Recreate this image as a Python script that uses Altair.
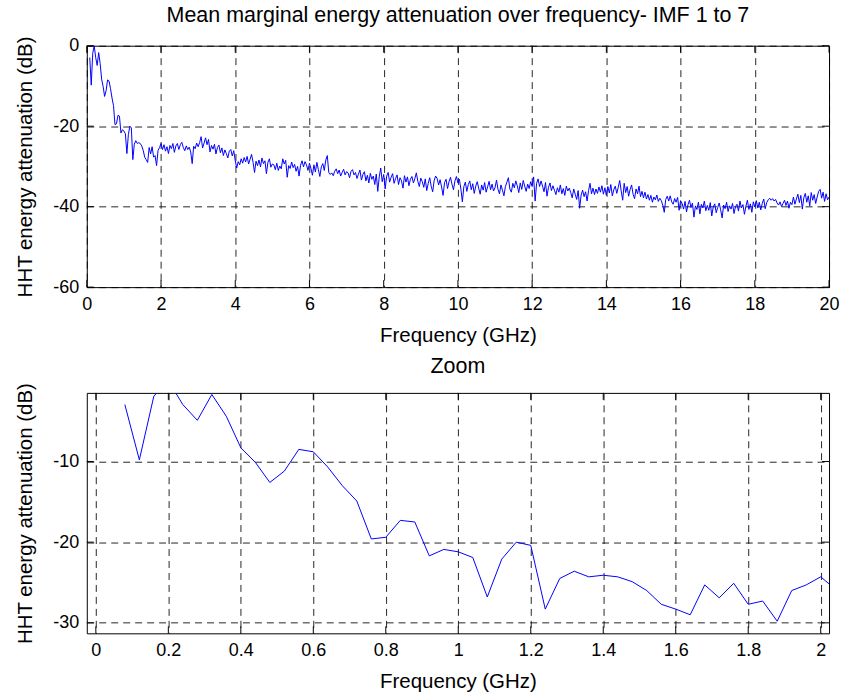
import altair as alt
import pandas as pd

FONT = "Liberation Sans"

freq_start = 0.08
freq_step = 0.04

att_0_2 = [-2.95, -9.8, -1.9, 0.0, -2.95, -4.9, -1.7, -4.4, -8.3, -10.1,
           -12.6, -11.2, -8.5, -8.8, -10.7, -13.0, -14.9, -19.6, -19.4, -17.3,
           -17.5, -21.7, -20.9, -21.2, -21.9, -26.8, -22.1, -20.0, -20.4, -28.3,
           -24.5, -23.6, -24.3, -24.1, -24.3, -24.9, -26.0, -27.7, -28.3, -29.0,
           -25.3, -26.9, -25.1, -27.7, -27.3, -29.8, -26.0, -25.3, -24.3, -25.8]
att_2_3 = [-24.6, -26.2, -25.1, -26.8, -24.8, -25.6, -24.3, -26.5, -24.9, -24.3,
           -25.8, -24.6, -24.0, -25.3, -26.1, -24.9, -25.8, -25.2, -26.4, -29.3,
           -25.0, -25.6, -24.2, -25.1]
att_3_4 = [-24.1, -22.6, -25.4, -24.2, -22.9, -24.6, -23.3, -26.4, -24.8, -25.7,
           -24.5, -26.9, -25.3, -24.7, -26.6, -25.4, -27.3, -25.9, -26.8, -27.9,
           -26.2, -25.8, -27.4, -26.1, -28.6]
att_4_5 = [-30.4, -28.8, -29.6, -28.1, -29.2, -27.8, -28.9, -27.5, -29.4, -28.2,
           -27.0, -29.0, -31.5, -28.7, -29.8, -28.4, -30.1, -27.9, -29.3, -28.6,
           -31.8, -29.0, -28.1, -30.2, -29.4]
att_5_6 = [-29.6, -30.8, -29.2, -31.0, -29.9, -30.6, -28.1, -29.4, -28.5, -32.7,
           -29.8, -30.5, -28.9, -30.3, -29.5, -31.2, -30.0, -32.4, -29.7, -28.6,
           -30.1, -28.8, -29.6, -31.0, -29.2]
att_6_7 = [-30.5, -32.2, -29.6, -31.4, -29.0, -30.8, -32.5, -30.1, -29.3, -31.0,
           -28.4, -27.3, -31.5, -32.0, -31.6, -32.3, -31.2, -30.6, -31.8, -30.9,
           -32.4, -31.5, -30.7, -32.1, -31.3]
att_7_8 = [-31.6, -32.8, -31.2, -30.8, -32.1, -31.5, -33.0, -31.9, -30.9, -33.4,
           -32.0, -31.3, -33.6, -32.2, -34.1, -31.7, -33.2, -32.4, -34.5, -31.9,
           -36.2, -32.6, -30.4, -33.8, -32.0]
att_8_9 = [-35.6, -32.4, -31.5, -33.9, -32.7, -31.8, -34.2, -33.0, -32.1, -34.5,
           -32.8, -33.6, -35.4, -32.3, -33.9, -32.6, -34.8, -33.2, -32.5, -34.1,
           -33.0, -31.6, -33.7, -35.0, -32.9]
att_9_10 = [-33.8, -35.2, -33.1, -36.0, -34.2, -32.8, -34.9, -36.3, -33.5, -32.4,
            -33.0, -34.6, -33.3, -35.1, -37.2, -34.0, -33.2, -35.5, -33.8, -32.7,
            -34.4, -35.8, -33.6, -32.5, -34.1]
att_10_11 = [-33.2, -35.6, -38.8, -35.0, -33.9, -36.2, -34.5, -33.6, -35.8, -34.3,
             -36.7, -34.9, -33.8, -35.4, -36.9, -34.6, -35.9, -34.0, -36.4, -35.1,
             -33.7, -35.8, -34.4, -36.1, -35.3]
att_11_12 = [-33.4, -35.7, -36.8, -34.6, -35.9, -37.3, -35.0, -33.9, -32.8, -35.6,
             -36.4, -34.2, -35.3, -33.6, -34.8, -36.5, -34.1, -35.7, -33.5, -34.9,
             -36.2, -34.4, -35.5, -33.8, -35.0]
att_12_13 = [-32.6, -38.6, -34.2, -33.1, -35.0, -33.6, -34.9, -36.3, -34.0, -37.4,
             -35.2, -34.1, -36.0, -34.8, -35.9, -37.0, -35.3, -36.4, -34.6, -36.8,
             -35.5, -37.2, -34.9, -36.1, -35.4]
att_13_14 = [-36.5, -37.8, -35.6, -36.9, -38.2, -36.0, -40.4, -37.1, -35.9, -37.5,
             -36.3, -38.6, -36.0, -34.2, -36.8, -35.4, -37.0, -35.6, -36.7, -35.1,
             -36.4, -34.8, -36.9, -35.3, -37.2]
att_14_15 = [-35.0, -36.6, -34.5, -37.3, -35.8, -34.9, -36.7, -35.2, -33.5, -36.1,
             -38.4, -34.2, -36.5, -35.0, -37.4, -35.7, -34.6, -36.9, -38.0, -35.6,
             -36.8, -34.9, -37.5, -36.2, -37.8]
att_15_16 = [-36.4, -38.1, -37.0, -38.4, -37.2, -38.9, -37.6, -38.3, -37.1, -38.7,
             -37.9, -38.5, -39.6, -41.4, -38.2, -37.4, -38.6, -37.3, -38.8, -39.4,
             -38.0, -38.9, -37.7, -40.9, -38.5]
att_16_17 = [-39.2, -40.6, -38.7, -41.3, -39.5, -38.4, -40.2, -39.1, -42.6, -39.8,
             -40.7, -38.9, -41.8, -39.4, -40.3, -38.6, -41.0, -39.7, -40.9, -39.0,
             -42.3, -40.1, -39.3, -41.5, -40.2]
att_17_18 = [-39.1, -40.8, -42.8, -39.6, -40.5, -38.9, -41.2, -39.8, -40.6, -39.2,
             -41.7, -40.0, -39.4, -41.1, -38.6, -40.3, -39.5, -41.9, -39.9, -38.4,
             -40.7, -39.3, -41.4, -38.8, -40.1]
att_18_19 = [-38.5, -40.3, -38.9, -40.8, -39.2, -38.1, -40.5, -39.0, -38.3, -37.9,
             -38.4, -38.0, -38.6, -38.2, -39.1, -39.6, -38.8, -40.0, -39.2, -38.4,
             -39.7, -38.6, -40.4, -38.9, -39.5]
att_19_20 = [-37.6, -39.4, -38.1, -36.9, -39.0, -37.2, -40.6, -37.8, -36.7, -38.9,
             -37.3, -39.8, -36.5, -38.4, -37.0, -39.2, -37.6, -36.2, -35.7, -37.9,
             -36.4, -38.7, -36.8, -38.3, -37.6]

top_x_ticks = [0, 2, 4, 6, 8, 10, 12, 14, 16, 18, 20]
top_y_ticks = [0, -20, -40, -60]
zoom_x_ticks = [0, 0.2, 0.4, 0.6, 0.8, 1.0, 1.2, 1.4, 1.6, 1.8, 2.0]
zoom_y_ticks = [-10, -20, -30]

top_title = "Mean marginal energy attenuation over frequency- IMF 1 to 7"
zoom_title = "Zoom"
x_title = "Frequency (GHz)"
y_title = "HHT energy attenuation (dB)"

values = (att_0_2 + att_2_3 + att_3_4 + att_4_5 + att_5_6 + att_6_7 + att_7_8 +
          att_8_9 + att_9_10 + att_10_11 + att_11_12 + att_12_13 + att_13_14 +
          att_14_15 + att_15_16 + att_16_17 + att_17_18 + att_18_19 + att_19_20)
freq = [round(freq_start + freq_step * i, 2) for i in range(len(values))]
df = pd.DataFrame({"f": freq, "db": values})
zoom_df = df[df["f"] <= 2.09]

W = 744
TICK = 7


def panel(data, xdom, ydom, xt, yt, title, H, title_offset):
    xs = alt.Scale(domain=xdom, nice=False, zero=False)
    ys = alt.Scale(domain=ydom, nice=False, zero=False)
    common = dict(grid=True, gridDash=[7, 5], gridColor="black", gridOpacity=0.85,
                  gridWidth=1, ticks=False, tickSize=0, domain=False,
                  labelExpr="toString(datum.value)", labelPadding=8,
                  labelFontSize=18, titleFontSize=20.5, labelFont=FONT,
                  titleFont=FONT, labelColor="black", titleColor="black",
                  titleFontWeight="normal", labelFlush=False, labelOverlap=False)
    xaxis = alt.Axis(values=xt, title=x_title, titlePadding=12, **common)
    yaxis = alt.Axis(values=yt, title=y_title, titlePadding=17, **common)
    line = alt.Chart(data).mark_line(color="#0000ff", strokeWidth=1, clip=True).encode(
        x=alt.X("f:Q", scale=xs, axis=xaxis),
        y=alt.Y("db:Q", scale=ys, axis=yaxis),
    )
    xdf = pd.DataFrame({"t": xt})
    ydf = pd.DataFrame({"t": yt})
    tb = alt.Chart(xdf).mark_rule(color="black", strokeWidth=1).encode(
        x=alt.X("t:Q", scale=xs, axis=xaxis), y=alt.value(H), y2=alt.value(H - TICK))
    tt = alt.Chart(xdf).mark_rule(color="black", strokeWidth=1).encode(
        x=alt.X("t:Q", scale=xs, axis=xaxis), y=alt.value(0), y2=alt.value(TICK))
    tl = alt.Chart(ydf).mark_rule(color="black", strokeWidth=1).encode(
        y=alt.Y("t:Q", scale=ys, axis=yaxis), x=alt.value(0), x2=alt.value(TICK))
    tr = alt.Chart(ydf).mark_rule(color="black", strokeWidth=1).encode(
        y=alt.Y("t:Q", scale=ys, axis=yaxis), x=alt.value(W), x2=alt.value(W - TICK))
    return alt.layer(line, tb, tt, tl, tr).properties(
        width=W, height=H,
        title=alt.TitleParams(title, font=FONT, fontSize=21.5, fontWeight="normal",
                              color="black", anchor="middle", offset=title_offset),
    )


top = panel(df, [0, 20], [-60, 0], top_x_ticks, top_y_ticks, top_title, 242, 9)
bottom = panel(zoom_df, [-0.025, 2.023], [-31.3, -1.5], zoom_x_ticks, zoom_y_ticks,
               zoom_title, 241, 5)

chart = alt.vconcat(top, bottom, spacing=9).properties(
    padding={"left": 15, "top": 3, "right": 5, "bottom": 0},
    background="white",
).configure_view(stroke="black", strokeWidth=1)

chart.save("out.html", embed_options={"renderer": "svg", "actions": False})
